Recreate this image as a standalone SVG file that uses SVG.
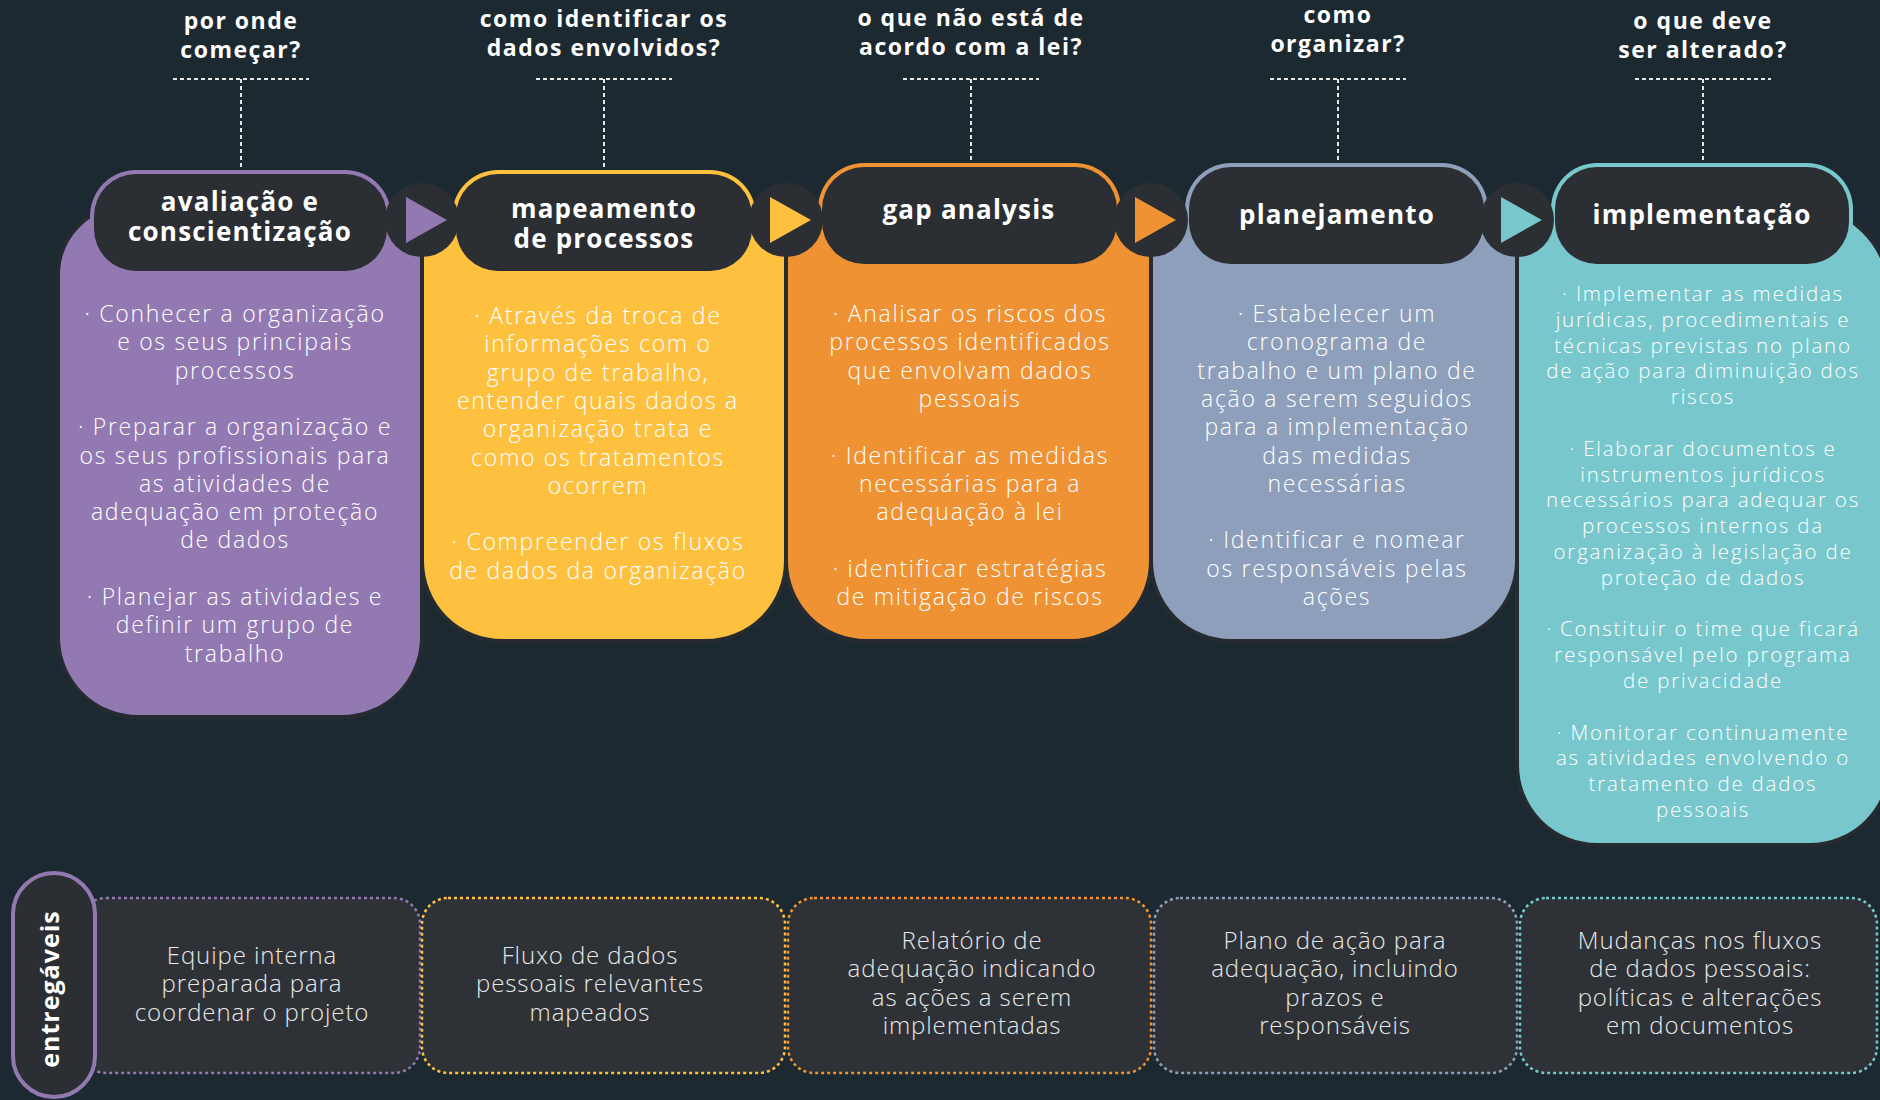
<svg xmlns="http://www.w3.org/2000/svg" width="1880" height="1100" viewBox="0 0 1880 1100">
<style>
  text { font-family: "Open Sans", "Liberation Sans", sans-serif; text-anchor: middle; }
  .q { font-size: 23px; font-weight: 700; fill: #ffffff; letter-spacing: 1.5px; }
  .h { font-size: 26px; font-weight: 700; fill: #ffffff; letter-spacing: 1.2px; }
  .b { font-size: 23px; font-weight: 300; fill: #ffffff; letter-spacing: 1.7px; }
  .b5 { font-size: 20.5px; font-weight: 300; fill: #ffffff; letter-spacing: 1.8px; }
  .d { font-size: 24px; font-weight: 300; fill: #e8e8e8; letter-spacing: 0.9px; }
  .ent { font-size: 25px; font-weight: 700; fill: #ffffff; letter-spacing: 1px; }
  .body { stroke: #252b30; stroke-width: 4; }
  .pill { fill: #2b2f33; }
  .circ { fill: #2b2f33; }
  .dash { stroke: #e6e6e6; stroke-width: 2; stroke-dasharray: 4 3; fill: none; }
  .box { fill: #2e3236; stroke-width: 2.5; stroke-dasharray: 3 3; }
</style>
<rect x="0" y="0" width="1880" height="1100" fill="#1d2930"/>

<g id="connectors">
  <path class="dash" d="M173 79 H309 M241 79 V170"/>
  <path class="dash" d="M536 79 H672 M604 79 V170"/>
  <path class="dash" d="M903 79 H1039 M971 79 V163"/>
  <path class="dash" d="M1270 79 H1406 M1338 79 V163"/>
  <path class="dash" d="M1635 79 H1771 M1703 79 V163"/>
</g>

<g id="questions">
  <text class="q" x="241" y="29">por onde<tspan x="241" dy="29">começar?</tspan></text>
  <text class="q" x="604" y="27">como identificar os<tspan x="604" dy="29">dados envolvidos?</tspan></text>
  <text class="q" x="971" y="26">o que não está de<tspan x="971" dy="29">acordo com a lei?</tspan></text>
  <text class="q" x="1338" y="23">como<tspan x="1338" dy="29">organizar?</tspan></text>
  <text class="q" x="1703" y="29">o que deve<tspan x="1703" dy="29">ser alterado?</tspan></text>
</g>

<g id="card1">
  <path class="body" fill="#9279b2" d="M128 205 H422 V637 A80 80 0 0 1 342 717 H138 A80 80 0 0 1 58 637 V275 A70 70 0 0 1 128 205 Z"/>
  <rect x="90" y="170" width="301" height="105" rx="46" fill="#9279b2"/>
</g>
<g id="card2">
  <path class="body" fill="#fdc13f" d="M422 222 H786 V561 A80 80 0 0 1 706 641 H502 A80 80 0 0 1 422 561 Z"/>
  <rect x="452" y="170" width="304" height="105" rx="46" fill="#fdc13f"/>
</g>
<g id="card3">
  <path class="body" fill="#ee9233" d="M786 215 H1151 V561 A80 80 0 0 1 1071 641 H866 A80 80 0 0 1 786 561 Z"/>
  <rect x="818" y="163" width="303" height="105" rx="46" fill="#ee9233"/>
</g>
<g id="card4">
  <path class="body" fill="#8d9fbb" d="M1151 215 H1517 V561 A80 80 0 0 1 1437 641 H1231 A80 80 0 0 1 1151 561 Z"/>
  <rect x="1185" y="163" width="303" height="105" rx="46" fill="#8d9fbb"/>
</g>
<g id="card5">
  <path class="body" fill="#78c7cc" d="M1517 205 H1800 A90 90 0 0 1 1890 295 V765 A80 80 0 0 1 1810 845 H1597 A80 80 0 0 1 1517 765 Z"/>
  <rect x="1551" y="163" width="302" height="105" rx="46" fill="#78c7cc"/>
</g>

<g id="header1">
  <rect class="pill" x="94" y="174" width="293" height="97" rx="42"/>
  <text class="h" x="240" y="211">avaliação e<tspan x="240" dy="30">conscientização</tspan></text>
</g>
<g id="header2">
  <rect class="pill" x="456" y="174" width="296" height="97" rx="42"/>
  <text class="h" x="604" y="218">mapeamento<tspan x="604" dy="30">de processos</tspan></text>
</g>
<g id="header3">
  <rect class="pill" x="822" y="167" width="295" height="97" rx="42"/>
  <text class="h" x="969" y="219">gap analysis</text>
</g>
<g id="header4">
  <rect class="pill" x="1189" y="167" width="295" height="97" rx="42"/>
  <text class="h" x="1337" y="224">planejamento</text>
</g>
<g id="header5">
  <rect class="pill" x="1555" y="167" width="294" height="97" rx="42"/>
  <text class="h" x="1702" y="224">implementação</text>
</g>

<g id="arrows">
  <circle class="circ" cx="422" cy="220" r="37"/>
  <polygon points="406,197 447,220 406,243" fill="#9279b2"/>
  <circle class="circ" cx="786" cy="220" r="37"/>
  <polygon points="770,197 811,220 770,243" fill="#fdc13f"/>
  <circle class="circ" cx="1151" cy="220" r="37"/>
  <polygon points="1135,197 1176,220 1135,243" fill="#ee9233"/>
  <circle class="circ" cx="1517" cy="220" r="37"/>
  <polygon points="1501,197 1542,220 1501,243" fill="#78c7cc"/>
</g>

<g id="text1">
  <text class="b" x="235" y="322">· Conhecer a organização<tspan x="235" dy="28.3">e os seus principais</tspan><tspan x="235" dy="28.3">processos</tspan><tspan x="235" dy="56.6">· Preparar a organização e</tspan><tspan x="235" dy="28.3">os seus profissionais para</tspan><tspan x="235" dy="28.3">as atividades de</tspan><tspan x="235" dy="28.3">adequação em proteção</tspan><tspan x="235" dy="28.3">de dados</tspan><tspan x="235" dy="56.6">· Planejar as atividades e</tspan><tspan x="235" dy="28.3">definir um grupo de</tspan><tspan x="235" dy="28.3">trabalho</tspan></text>
</g>
<g id="text2">
  <text class="b" x="598" y="324">· Através da troca de<tspan x="598" dy="28.3">informações com o</tspan><tspan x="598" dy="28.3">grupo de trabalho,</tspan><tspan x="598" dy="28.3">entender quais dados a</tspan><tspan x="598" dy="28.3">organização trata e</tspan><tspan x="598" dy="28.3">como os tratamentos</tspan><tspan x="598" dy="28.3">ocorrem</tspan><tspan x="598" dy="56.6">· Compreender os fluxos</tspan><tspan x="598" dy="28.3">de dados da organização</tspan></text>
</g>
<g id="text3">
  <text class="b" x="970" y="322">· Analisar os riscos dos<tspan x="970" dy="28.3">processos identificados</tspan><tspan x="970" dy="28.3">que envolvam dados</tspan><tspan x="970" dy="28.3">pessoais</tspan><tspan x="970" dy="56.6">· Identificar as medidas</tspan><tspan x="970" dy="28.3">necessárias para a</tspan><tspan x="970" dy="28.3">adequação à lei</tspan><tspan x="970" dy="56.6">· identificar estratégias</tspan><tspan x="970" dy="28.3">de mitigação de riscos</tspan></text>
</g>
<g id="text4">
  <text class="b" x="1337" y="322">· Estabelecer um<tspan x="1337" dy="28.3">cronograma de</tspan><tspan x="1337" dy="28.3">trabalho e um plano de</tspan><tspan x="1337" dy="28.3">ação a serem seguidos</tspan><tspan x="1337" dy="28.3">para a implementação</tspan><tspan x="1337" dy="28.3">das medidas</tspan><tspan x="1337" dy="28.3">necessárias</tspan><tspan x="1337" dy="56.6">· Identificar e nomear</tspan><tspan x="1337" dy="28.3">os responsáveis pelas</tspan><tspan x="1337" dy="28.3">ações</tspan></text>
</g>
<g id="text5">
  <text class="b5" x="1703" y="301">· Implementar as medidas<tspan x="1703" dy="25.8">jurídicas, procedimentais e</tspan><tspan x="1703" dy="25.8">técnicas previstas no plano</tspan><tspan x="1703" dy="25.8">de ação para diminuição dos</tspan><tspan x="1703" dy="25.8">riscos</tspan><tspan x="1703" dy="51.6">· Elaborar documentos e</tspan><tspan x="1703" dy="25.8">instrumentos jurídicos</tspan><tspan x="1703" dy="25.8">necessários para adequar os</tspan><tspan x="1703" dy="25.8">processos internos da</tspan><tspan x="1703" dy="25.8">organização à legislação de</tspan><tspan x="1703" dy="25.8">proteção de dados</tspan><tspan x="1703" dy="51.6">· Constituir o time que ficará</tspan><tspan x="1703" dy="25.8">responsável pelo programa</tspan><tspan x="1703" dy="25.8">de privacidade</tspan><tspan x="1703" dy="51.6">· Monitorar continuamente</tspan><tspan x="1703" dy="25.8">as atividades envolvendo o</tspan><tspan x="1703" dy="25.8">tratamento de dados</tspan><tspan x="1703" dy="25.8">pessoais</tspan></text>
</g>

<g id="deliverable1">
  <rect class="box" x="80" y="898" width="340" height="175" rx="26" stroke="#9279b2"/>
  <text class="d" x="252" y="964">Equipe interna<tspan x="252" dy="28.3">preparada para</tspan><tspan x="252" dy="28.3">coordenar o projeto</tspan></text>
</g>
<g id="deliverable2">
  <rect class="box" x="422" y="898" width="363" height="175" rx="26" stroke="#fdc13f"/>
  <text class="d" x="590" y="964">Fluxo de dados<tspan x="590" dy="28.3">pessoais relevantes</tspan><tspan x="590" dy="28.3">mapeados</tspan></text>
</g>
<g id="deliverable3">
  <rect class="box" x="788" y="898" width="363" height="175" rx="26" stroke="#ee9233"/>
  <text class="d" x="972" y="949">Relatório de<tspan x="972" dy="28.3">adequação indicando</tspan><tspan x="972" dy="28.3">as ações a serem</tspan><tspan x="972" dy="28.3">implementadas</tspan></text>
</g>
<g id="deliverable4">
  <rect class="box" x="1154" y="898" width="363" height="175" rx="26" stroke="#8d9fbb"/>
  <text class="d" x="1335" y="949">Plano de ação para<tspan x="1335" dy="28.3">adequação, incluindo</tspan><tspan x="1335" dy="28.3">prazos e</tspan><tspan x="1335" dy="28.3">responsáveis</tspan></text>
</g>
<g id="deliverable5">
  <rect class="box" x="1520" y="898" width="357" height="175" rx="26" stroke="#78c7cc"/>
  <text class="d" x="1700" y="949">Mudanças nos fluxos<tspan x="1700" dy="28.3">de dados pessoais:</tspan><tspan x="1700" dy="28.3">políticas e alterações</tspan><tspan x="1700" dy="28.3">em documentos</tspan></text>
</g>

<g id="entregaveis">
  <rect x="13" y="873" width="82" height="224" rx="41" fill="#2b2f33" stroke="#9279b2" stroke-width="4"/>
  <text class="ent" transform="translate(59 989) rotate(-90)" x="0" y="0">entregáveis</text>
</g>
</svg>
